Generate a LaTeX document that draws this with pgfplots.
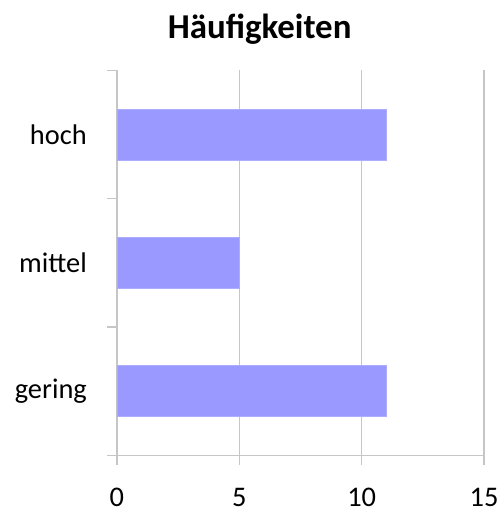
\documentclass[border=0pt]{standalone}
\usepackage{pgfplots}
\pgfplotsset{compat=1.18}
\usepackage{fontspec}
\setmainfont{Carlito}
\definecolor{barcol}{RGB}{153,153,255}
\definecolor{gridcol}{RGB}{198,198,198}
\begin{document}
\begin{tikzpicture}
\begin{axis}[
  scale only axis,
  width=368.4bp, height=386bp,
  anchor=south west, at={(0,0)},
  xmin=0, xmax=15,
  ymin=0.5, ymax=3.5,
  xbar, bar width=51bp, bar shift=0pt,
  axis x line*=bottom, axis y line*=left,
  axis line style={gridcol, line width=1.2bp, -},
  xtick={0,5,10,15},
  ytick={1,2,3},
  yticklabels={gering,mittel,hoch},
  minor ytick={0.5,1.5,2.5,3.5},
  tick align=outside,
  major tick length=10bp,
  minor tick length=10bp,
  y tick style={draw=none},
  minor y tick style={draw=gridcol, line width=1.2bp},
  x tick style={draw=gridcol, line width=1.2bp},
  xmajorgrids,
  major x grid style={gridcol, line width=1.2bp},
  /pgf/number format/assume math mode=true,
  tick label style={font=\fontsize{28.5bp}{30bp}\selectfont},
  xticklabel style={inner sep=0pt, anchor=base, yshift=-41bp},
  yticklabel style={inner sep=0pt, xshift=-20bp},
  clip=false,
]
\addplot[fill=barcol, draw=barcol!80!white] coordinates {(11,1) (5,2) (11,3)};
\end{axis}
\node[anchor=base, font=\fontsize{35bp}{38bp}\selectfont\bfseries] at (143.2bp,418.4bp) {Häufigkeiten};
\pgfresetboundingbox
\path[use as bounding box] (-117.3bp,-56bp) rectangle (385.7bp,456.7bp);
\end{tikzpicture}
\end{document}
